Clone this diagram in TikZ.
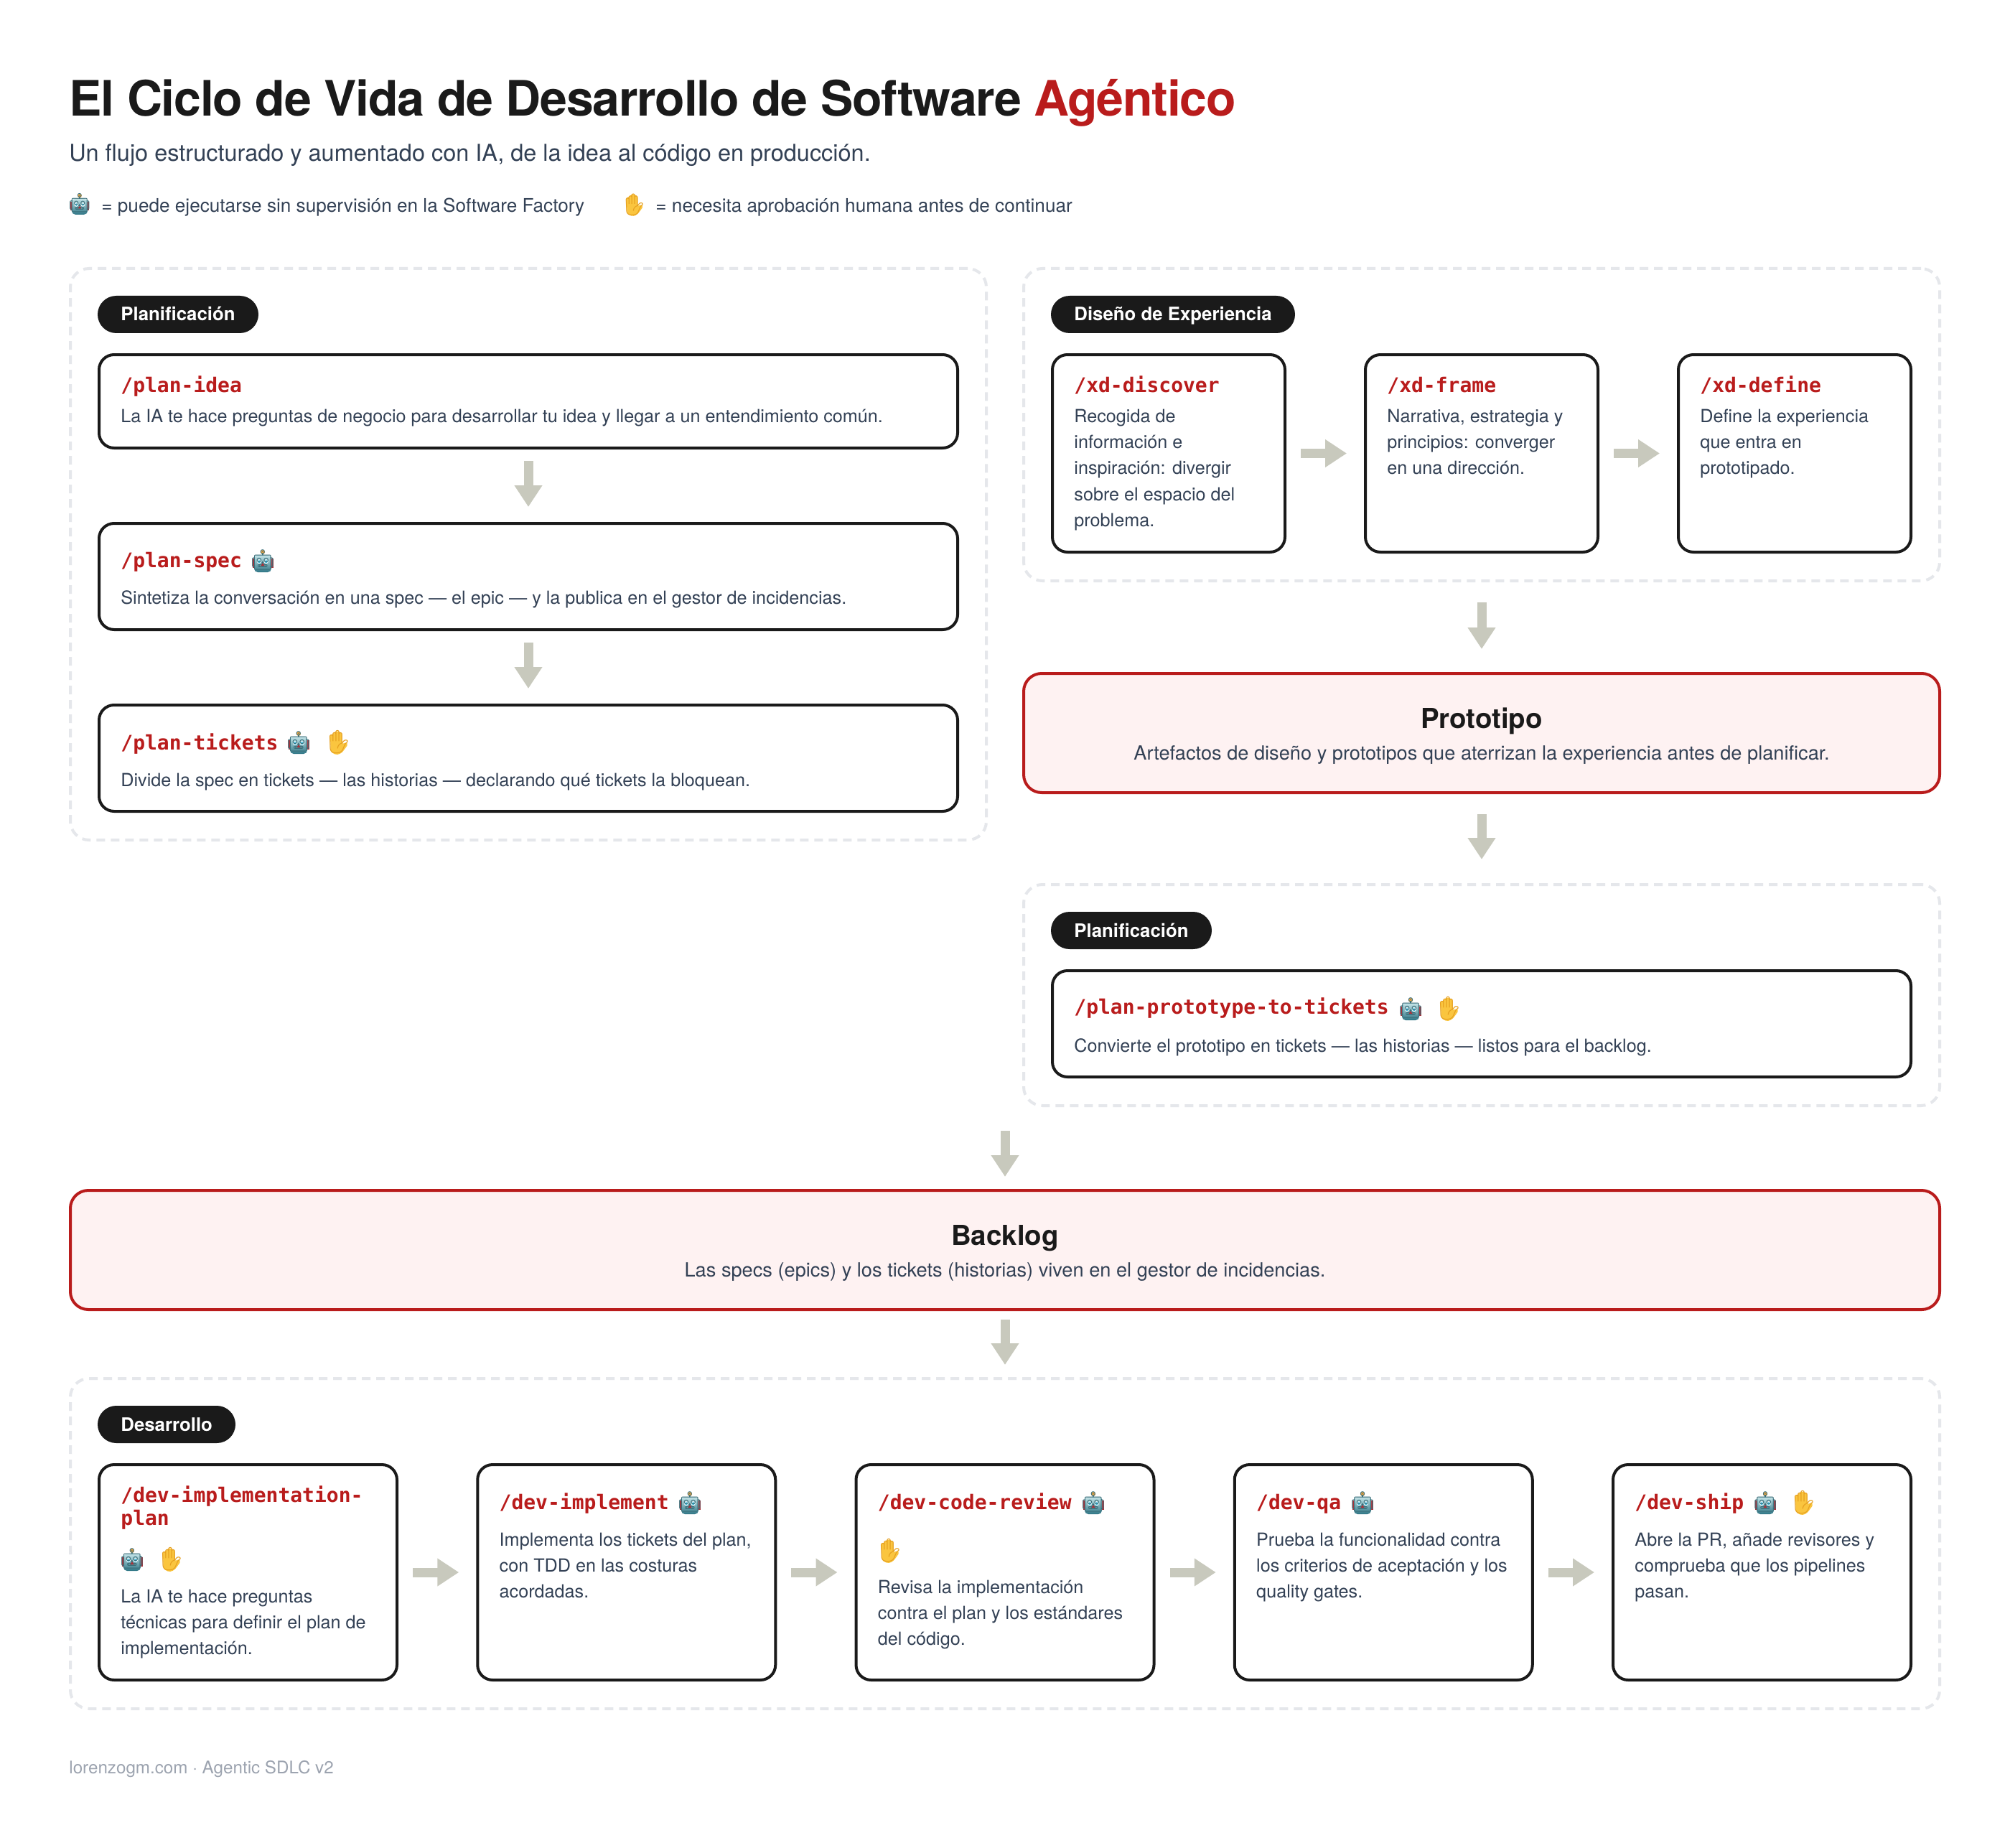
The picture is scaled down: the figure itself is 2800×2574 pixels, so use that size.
\documentclass[tikz,border=0pt]{standalone}
\usepackage{fontspec}
\setmainfont{TeX Gyre Heros}
\newfontfamily\titlef{TeX Gyre Heros}[LetterSpace=-1.85]
\newfontfamily\monof{DejaVu Sans Mono}
\newfontfamily\emojif{Noto Emoji}
\usetikzlibrary{arrows.meta}
\definecolor{ink}{HTML}{1A1A1A}
\definecolor{body}{HTML}{334155}
\definecolor{accent}{HTML}{B91C1C}
\definecolor{softred}{HTML}{FEF2F2}
\definecolor{dashc}{HTML}{E5E7EB}
\definecolor{flowc}{HTML}{C8C9BD}
\definecolor{foot}{HTML}{9CA3AF}
\definecolor{robotline}{HTML}{3A6F7A}
\definecolor{robottop}{HTML}{C4E4E8}
\definecolor{robotbot}{HTML}{2E7585}
\definecolor{robotear}{HTML}{A8323A}
\definecolor{robotant}{HTML}{F2A33A}
\definecolor{roboteye}{HTML}{46C3E6}
\definecolor{handfill}{HTML}{FAC53F}
\definecolor{handline}{HTML}{E6A020}
\tikzset{
  x=0.5pt,y=-0.5pt,
  group/.style={draw=dashc,line width=2pt,dash pattern=on 6pt off 4pt,rounded corners=13pt,inner sep=0pt,fill=none},
  card/.style={draw=ink,line width=2pt,rounded corners=10.5pt,fill=white,inner sep=0pt},
  milestone/.style={draw=accent,line width=2pt,rounded corners=12.5pt,fill=softred,inner sep=0pt},
  pill/.style={fill=ink,rounded corners=13pt,inner sep=0pt,draw=none,outer sep=0pt},
  pilltext/.style={anchor=base west,text=white,inner sep=0pt,font=\fontsize{12.9}{16}\selectfont\bfseries},
  cmd/.style={anchor=north west,inner sep=0pt,align=left,text=accent,font=\fontsize{14}{16}\selectfont\monof\bfseries},
  desc/.style={anchor=north west,inner sep=0pt,align=left,text=body,font=\fontsize{12.6}{18.1}\selectfont},
  mtitle/.style={anchor=base,inner sep=0pt,text=ink,font=\fontsize{19.2}{24}\selectfont\bfseries},
  mdesc/.style={anchor=base,inner sep=0pt,text=body,font=\fontsize{13.6}{18}\selectfont},
  flow/.style={draw=flowc,line width=6.5pt,-{Triangle[length=15pt,width=18.5pt,fill=flowc]}},
  flowh/.style={flow,shorten <=10pt,shorten >=12pt},
  flowv/.style={flow,shorten <=8pt,shorten >=10.5pt},
  legendtext/.style={anchor=base west,inner sep=0pt,text=body,font=\fontsize{13.08}{16}\selectfont},
}
\newcommand{\bx}[6]{\node[#1,minimum width={(#5-#3-4)*0.5pt},minimum height={(#6-#4-4)*0.5pt}] (#2) at ({(#3+#5)/2},{(#4+#6)/2}) {};}
\newcommand{\pl}[6]{\node[pill,minimum width={(#4-#3)*0.5pt},minimum height=26pt] (#1) at ({(#3+#4)/2},#5) {};
  \node[pilltext] (#1t) at (#3+32,#6) {#2};}
\newcommand{\cmdt}[4]{\node[cmd] (#1) at (#2,#3-26) {\rule{0pt}{13pt}#4};}
\newcommand{\dsc}[4]{\node[desc] (#1) at (#2,#3-24) {\rule{0pt}{12pt}#4};}
% robot emoji: coloured underlay, then the glyph as text
\newcommand{\rob}[4][14]{%
  \begin{scope}[shift={(#3,#4)},scale=#1/14]
    \fill[robotear] (-14.5,-2) rectangle (14.5,10.5);
    \shade[top color=robottop,bottom color=robotbot,rounded corners=2.5pt] (-12,-7) rectangle (12,17);
    \fill[robotant] (0,-11) circle (1.5pt);
    \fill[white] (-5,2.2) circle (1.5pt) (4.8,2.2) circle (1.5pt);
    \fill[roboteye] (-5,2.2) circle (1pt) (4.8,2.2) circle (1pt);
    \node[inner sep=0pt,text=robotline,font=\fontsize{#1}{#1}\selectfont\emojif] (#2) at (0,0) {🤖};
    \fill[robotear] (0,4) -- (2.5,8) -- (-2.5,8) -- cycle;
  \end{scope}}
\newcommand{\han}[4][16]{%
  \begin{scope}[shift={(#3+2,#4)},scale=#1/16]
    \fill[handfill,rounded corners=1pt] (-12.2,-10) -- (-10.2,-11.5) -- (-7.4,-11) -- (-7.4,-13.5) -- (-1.8,-16) -- (2.4,-13.5) -- (4.7,-12) -- (4.7,2.2) -- (10.8,-0.2) -- (12.7,3) -- (7.3,10.6) -- (3.5,15.2) -- (-3.4,17.5) -- (-11,13.7) -- cycle;
    \node[inner sep=0pt,text=handline,font=\fontsize{#1}{#1}\selectfont\emojif] (#2) at (0,0) {✋};
  \end{scope}}
\begin{document}
\begin{tikzpicture}
\useasboundingbox (0,0) rectangle (2800,2573.6);
\fill[white] (0,0) rectangle (2800,2573.6);
% header
\node[anchor=base west,inner sep=0pt,text=ink,font=\fontsize{34}{40}\selectfont\titlef\bfseries] (title) at (96,162) {El Ciclo de Vida de Desarrollo de Software \textcolor{accent}{Agéntico}};
\node[anchor=base west,inner sep=0pt,text=body,font=\fontsize{16.23}{20}\selectfont] (subtitle) at (96,224.5) {Un flujo estructurado y aumentado con IA, de la idea al código en producción.};
\rob[13]{legr}{111}{283}
\node[legendtext] (legrt) at (141,296) {= puede ejecutarse sin supervisión en la Software Factory};
\han[15]{legh}{882}{285}
\node[legendtext] (leght) at (913,296) {= necesita aprobación humana antes de continuar};
% groups
\bx{group}{gplan}{96}{372}{1376}{1172}
\bx{group}{gxd}{1424}{372}{2704}{811}
\bx{group}{gplan2}{1424}{1230}{2704}{1542}
\bx{group}{gdev}{96}{1918}{2704}{2382}
% pills
\pl{p1}{Planificación}{136}{360}{438}{447}
\pl{p2}{Diseño de Experiencia}{1464}{1804}{438}{447}
\pl{p3}{Planificación}{1464}{1688}{1296}{1305}
\pl{p4}{Desarrollo}{136}{328}{1984}{1993}
% plan cards
\bx{card}{pi}{136}{492}{1336}{626}
\bx{card}{ps}{136}{727}{1336}{879}
\bx{card}{pt}{136}{980}{1336}{1132}
\cmdt{pit}{168}{546}{/plan-idea}
\dsc{pid}{168}{588}{La IA te hace preguntas de negocio para desarrollar tu idea y llegar a un entendimiento común.}
\cmdt{pst}{168}{790}{/plan-spec}
\rob{psr}{366}{780}
\dsc{psd}{168}{841}{Sintetiza la conversación en una spec — el epic — y la publica en el gestor de incidencias.}
\cmdt{ptt}{168}{1044}{/plan-tickets}
\rob{ptr}{416}{1033}
\han{pth}{470}{1034}
\dsc{ptd}{168}{1095}{Divide la spec en tickets — las historias — declarando qué tickets la bloquean.}
% xd cards
\bx{card}{xa}{1464}{492}{1792}{771}
\bx{card}{xb}{1900}{492}{2228}{771}
\bx{card}{xc}{2336}{492}{2664}{771}
\cmdt{xat}{1496}{546}{/xd-discover}
\dsc{xad}{1496}{588}{Recogida de\\información e\\inspiración: divergir\\sobre el espacio del\\problema.}
\cmdt{xbt}{1932}{546}{/xd-frame}
\dsc{xbd}{1932}{588}{Narrativa, estrategia y\\principios: converger\\en una dirección.}
\cmdt{xct}{2368}{546}{/xd-define}
\dsc{xcd}{2368}{588}{Define la experiencia\\que entra en\\prototipado.}
% prototipo
\bx{milestone}{proto}{1424}{936}{2704}{1106}
\node[mtitle] (protot) at (2064,1014) {Prototipo};
\node[mdesc] (protod) at (2064,1058) {Artefactos de diseño y prototipos que aterrizan la experiencia antes de planificar.};
% plan2 card
\bx{card}{pp}{1464}{1350}{2664}{1502}
\cmdt{ppt}{1496}{1412}{/plan-prototype-to-tickets}
\rob{ppr}{1965}{1404}
\han{pph}{2017}{1405}
\dsc{ppd}{1496}{1465}{Convierte el prototipo en tickets — las historias — listos para el backlog.}
% backlog
\bx{milestone}{backlog}{96}{1656}{2704}{1826}
\node[mtitle] (backt) at (1400,1734) {Backlog};
\node[mdesc] (backd) at (1400,1778) {Las specs (epics) y los tickets (historias) viven en el gestor de incidencias.};
% dev cards
\bx{card}{da}{136}{2038}{555}{2342}
\bx{card}{db}{663.25}{2038}{1082.25}{2342}
\bx{card}{dc}{1190.5}{2038}{1609.5}{2342}
\bx{card}{dd}{1717.75}{2038}{2136.75}{2342}
\bx{card}{de}{2245}{2038}{2664}{2342}
\cmdt{dat}{168}{2092}{/dev-implementation-\\plan}
\rob{dar}{184}{2171}
\han{dah}{237}{2172}
\dsc{dad}{168}{2232}{La IA te hace preguntas\\técnicas para definir el plan de\\implementación.}
\cmdt{dbt}{695.25}{2102}{/dev-implement}
\rob{dbr}{961}{2092}
\dsc{dbd}{695.25}{2153}{Implementa los tickets del plan,\\con TDD en las costuras\\acordadas.}
\cmdt{dct}{1222.5}{2102}{/dev-code-review}
\rob{dcr}{1523}{2092}
\han{dch}{1238}{2160}
\dsc{dcd}{1222.5}{2219}{Revisa la implementación\\contra el plan y los estándares\\del código.}
\cmdt{ddt}{1749.75}{2102}{/dev-qa}
\rob{ddr}{1898}{2092}
\dsc{ddd}{1749.75}{2153}{Prueba la funcionalidad contra\\los criterios de aceptación y los\\quality gates.}
\cmdt{det}{2277}{2102}{/dev-ship}
\rob{der}{2459}{2092}
\han{deh}{2511}{2093}
\dsc{ded}{2277}{2153}{Abre la PR, añade revisores y\\comprueba que los pipelines\\pasan.}
% footer
\node[anchor=base west,inner sep=0pt,text=foot,font=\fontsize{12.1}{14}\selectfont] (footer) at (96,2470) {lorenzogm.com · Agentic SDLC v2};
% connectors
\draw[flowv] (pi.south) -- (ps.north);
\draw[flowv] (ps.south) -- (pt.north);
\draw[flowh] (xa.east) -- (xb.west);
\draw[flowh] (xb.east) -- (xc.west);
\draw[flow,shorten <=14pt,shorten >=16pt] (gxd.south) -- (proto.north);
\draw[flow,shorten <=14pt,shorten >=16.5pt] (proto.south) -- (gplan2.north);
\draw[flow,shorten <=16.5pt,shorten >=8.5pt] (backlog.north |- gplan2.south) -- (backlog.north);
\draw[flow,shorten <=6pt,shorten >=8.5pt] (backlog.south) -- (backlog.south |- gdev.north);
\draw[flowh] (da.east) -- (db.west);
\draw[flowh] (db.east) -- (dc.west);
\draw[flowh] (dc.east) -- (dd.west);
\draw[flowh] (dd.east) -- (de.west);
\end{tikzpicture}
\end{document}
